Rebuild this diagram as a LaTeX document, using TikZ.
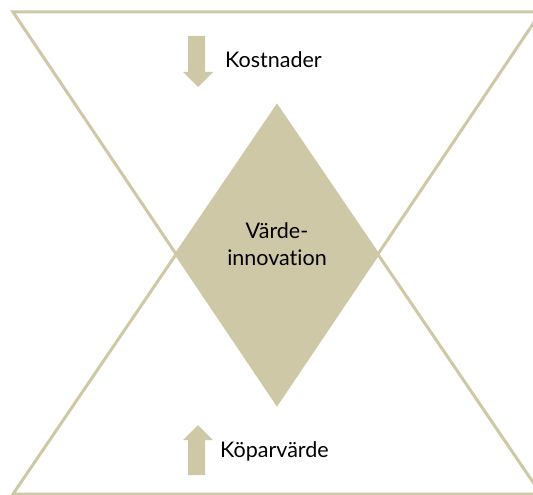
\documentclass[tikz,border=0pt]{standalone}
\usepackage{fontspec}
\setmainfont[Ligatures=NoCommon]{Lato}
\usetikzlibrary{shapes.geometric}
\definecolor{tan}{RGB}{207,200,166}
\begin{document}
\begin{tikzpicture}[x=1pt,y=-1pt,
  frame/.style={draw=tan,line width=3pt,line join=miter},
  label/.style={font=\fontsize{21.5}{27}\selectfont,text=black,inner sep=0pt},
  arrowshape/.style={fill=tan,draw=none}]
\useasboundingbox (0,0) rectangle (533,495);
\clip (0,0) rectangle (533,495);
% triangles
\coordinate (tl) at (13,12);
\coordinate (tr) at (541,12);
\coordinate (tapex) at (277,404);
\coordinate (bl) at (13,494);
\coordinate (br) at (541,494);
\coordinate (bapex) at (277,106);
\draw[frame] (tl) -- (tr) -- (tapex) -- cycle;
\draw[frame] (bl) -- (br) -- (bapex) -- cycle;
% diamond
\node[diamond,fill=tan,draw=none,inner sep=0pt,minimum width=204pt,minimum height=296pt] (dia) at (277,254) {};
\node[label,anchor=base] (t1) at (277,238) {Värde-};
\node[label,anchor=base] (t2) at (277,265) {innovation};
% arrows
\fill[arrowshape] (188,36) -- (205,36) -- (205,72) -- (213,72) -- (198,87) -- (183,72) -- (188,72) -- cycle;
\fill[arrowshape] (188,475) -- (205,475) -- (205,440) -- (213,440) -- (198,425) -- (183,440) -- (188,440) -- cycle;
\node[label,anchor=base west] (kost) at (225,67) {Kostnader};
\node[label,anchor=base west] (kop) at (220,457) {Köparvärde};
\end{tikzpicture}
\end{document}
